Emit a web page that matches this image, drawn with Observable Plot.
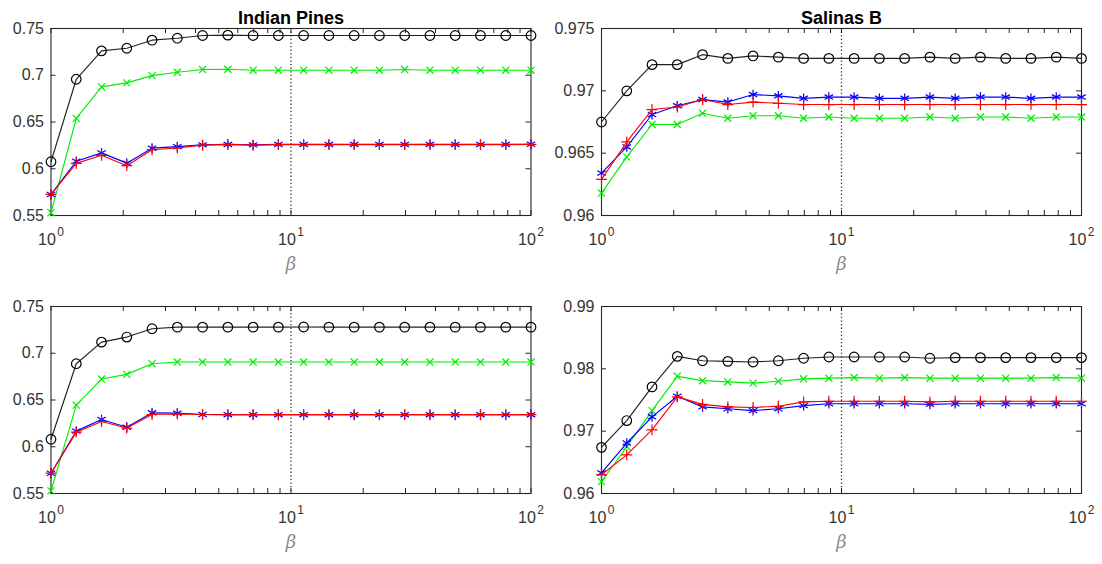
<!DOCTYPE html>
<html>
<head>
<meta charset="utf-8">
<script src="https://cdn.jsdelivr.net/npm/d3@7"></script>
<script src="https://cdn.jsdelivr.net/npm/@observablehq/plot@0.6"></script>
<style>
html, body { margin: 0; padding: 0; background: #fff; }
#root { position: relative; width: 1102px; height: 564px; overflow: hidden; background: #fff; }
#root svg { position: absolute; }
</style>
</head>
<body>
<div id="root"></div>
<script>
// ---- data ----
const betaValues = [1, 1.2743, 1.6238, 2.0691, 2.6367, 3.3598, 4.2813, 5.4556, 6.9519, 8.8587,
  11.2884, 14.3845, 18.3298, 23.3572, 29.7635, 37.9269, 48.3293, 61.5848, 78.476, 100];

const xMajorTicks = [1, 10, 100];
const xMinorTicks = [1, 2, 3, 4, 5, 6, 7, 8, 9, 10, 20, 30, 40, 50, 60, 70, 80, 90, 100];

const titles = ["Indian Pines", "Salinas B"];
const xLabel = "β";

const indianYTicks = [0.55, 0.6, 0.65, 0.7, 0.75];
const salinasTopYTicks = [0.96, 0.965, 0.97, 0.975];
const salinasBottomYTicks = [0.96, 0.97, 0.98, 0.99];

// Indian Pines, top row
const ipTopBlack = [0.6075, 0.6957, 0.7261, 0.7289, 0.7375, 0.7396, 0.7425, 0.7429, 0.7425, 0.7425,
  0.7425, 0.7425, 0.7425, 0.7425, 0.7425, 0.7425, 0.7425, 0.7425, 0.7425, 0.7425];
const ipTopGreen = [0.5530, 0.6539, 0.6875, 0.6918, 0.6996, 0.7032, 0.7061, 0.7064, 0.7054, 0.7054,
  0.7054, 0.7054, 0.7054, 0.7054, 0.7061, 0.7054, 0.7054, 0.7054, 0.7054, 0.7054];
const ipTopBlue = [0.5725, 0.6080, 0.6170, 0.6060, 0.6220, 0.6237, 0.6255, 0.6260, 0.6255, 0.6260,
  0.6260, 0.6260, 0.6260, 0.6260, 0.6260, 0.6260, 0.6260, 0.6260, 0.6260, 0.6262];
const ipTopRed = [0.5725, 0.6057, 0.6144, 0.6033, 0.6203, 0.6222, 0.6252, 0.6260, 0.6252, 0.6258,
  0.6258, 0.6258, 0.6258, 0.6258, 0.6258, 0.6258, 0.6258, 0.6258, 0.6258, 0.6260];

// Indian Pines, bottom row
const ipBotBlack = [0.6080, 0.6888, 0.7119, 0.7173, 0.7262, 0.7279, 0.7279, 0.7279, 0.7279, 0.7279,
  0.7281, 0.7279, 0.7279, 0.7279, 0.7279, 0.7279, 0.7279, 0.7279, 0.7279, 0.7279];
const ipBotGreen = [0.5528, 0.6445, 0.6724, 0.6774, 0.6888, 0.6906, 0.6906, 0.6906, 0.6906, 0.6906,
  0.6906, 0.6906, 0.6906, 0.6906, 0.6906, 0.6906, 0.6906, 0.6906, 0.6906, 0.6906];
const ipBotBlue = [0.5717, 0.6167, 0.6291, 0.6209, 0.6363, 0.6359, 0.6345, 0.6343, 0.6343, 0.6343,
  0.6343, 0.6343, 0.6343, 0.6343, 0.6343, 0.6343, 0.6343, 0.6343, 0.6343, 0.6343];
const ipBotRed = [0.5717, 0.6156, 0.6270, 0.6200, 0.6345, 0.6350, 0.6345, 0.6342, 0.6343, 0.6343,
  0.6343, 0.6343, 0.6343, 0.6343, 0.6343, 0.6343, 0.6343, 0.6343, 0.6343, 0.6343];

// Salinas B, top row
const sbTopBlack = [0.9675, 0.9700, 0.9721, 0.9721, 0.9729, 0.9726, 0.9728, 0.9727, 0.9726, 0.9726,
  0.9726, 0.9726, 0.9726, 0.9727, 0.9726, 0.9727, 0.9726, 0.9726, 0.9727, 0.9726];
const sbTopGreen = [0.9618, 0.9647, 0.9673, 0.9673, 0.9682, 0.9678, 0.9680, 0.9680, 0.9678, 0.9679,
  0.9678, 0.9678, 0.9678, 0.9679, 0.9678, 0.9679, 0.9679, 0.9678, 0.9679, 0.9679];
const sbTopBlue = [0.9634, 0.9655, 0.9681, 0.9688, 0.9693, 0.9691, 0.9697, 0.9696, 0.9694, 0.9695,
  0.9695, 0.9694, 0.9694, 0.9695, 0.9694, 0.9695, 0.9695, 0.9694, 0.9695, 0.9695];
const sbTopRed = [0.9629, 0.9659, 0.9685, 0.9687, 0.9693, 0.9689, 0.9691, 0.9690, 0.9689, 0.9689,
  0.9689, 0.9689, 0.9689, 0.9689, 0.9689, 0.9689, 0.9689, 0.9689, 0.9689, 0.9689];

// Salinas B, bottom row
const sbBotBlack = [0.9674, 0.9717, 0.9771, 0.9820, 0.9813, 0.9812, 0.9811, 0.9813, 0.9817, 0.9819,
  0.9819, 0.9819, 0.9819, 0.9817, 0.9818, 0.9818, 0.9818, 0.9818, 0.9818, 0.9818];
const sbBotGreen = [0.9619, 0.9675, 0.9733, 0.9788, 0.9781, 0.9779, 0.9777, 0.9780, 0.9784, 0.9785,
  0.9786, 0.9785, 0.9786, 0.9785, 0.9785, 0.9785, 0.9785, 0.9785, 0.9786, 0.9785];
const sbBotBlue = [0.9633, 0.9681, 0.9723, 0.9756, 0.9739, 0.9736, 0.9733, 0.9736, 0.9741, 0.9744,
  0.9744, 0.9744, 0.9744, 0.9743, 0.9744, 0.9744, 0.9744, 0.9744, 0.9744, 0.9744];
const sbBotRed = [0.9630, 0.9662, 0.9702, 0.9755, 0.9743, 0.9739, 0.9738, 0.9740, 0.9747, 0.9748,
  0.9748, 0.9748, 0.9748, 0.9747, 0.9748, 0.9748, 0.9748, 0.9748, 0.9748, 0.9748];

// ---- drawing ----
const FONT = "Arimo, 'Liberation Sans', Arial, Helvetica, sans-serif";
const seriesStyles = [
  {color: "#000000", symbol: "circle", r: 4.8, line: "#222222"},
  {color: "#00ee00", symbol: "times", r: 3.3, line: "#00ee00"},
  {color: "#0000ff", symbol: "asterisk", r: 4.6, line: "#0000ff"},
  {color: "#ff0000", symbol: "plus", r: 3.6, line: "#ff0000"}
];

function toRows(values) {
  return betaValues.map((b, i) => ({beta: b, value: values[i]}));
}

function fmtY(d) { return String(+d.toFixed(4)); }

function panel({series, yDomain, yTicks, title, left, top, width, height, ml, mr, mt, mb}) {
  const fw = width - ml - mr;
  const fh = height - mt - mb;
  const tick = 5;
  const marks = [
    Plot.ruleX([10], {stroke: "#333", strokeWidth: 1.3, strokeDasharray: "1.3,2.3"}),
    // inward ticks, bottom & top
    Plot.tickX(xMinorTicks, {x: d => d, insetTop: fh - tick, stroke: "#262626", strokeWidth: 1}),
    Plot.tickX(xMinorTicks, {x: d => d, insetBottom: fh - tick, stroke: "#262626", strokeWidth: 1}),
    // inward ticks, left & right
    Plot.tickY(yTicks, {y: d => d, insetRight: fw - tick, stroke: "#262626", strokeWidth: 1}),
    Plot.tickY(yTicks, {y: d => d, insetLeft: fw - tick, stroke: "#262626", strokeWidth: 1}),
    Plot.frame({stroke: "#262626", strokeWidth: 1.1}),
    Plot.axisX(xMajorTicks, {
      tickSize: 0, tickPadding: 18, label: null,
      tickFormat: d => "10^" + Math.round(Math.log10(d)),
      fontSize: 16, fill: "#333"
    }),
    Plot.axisY(yTicks, {
      tickSize: 0, tickPadding: 7, label: null,
      tickFormat: fmtY, fontSize: 16, fill: "#333"
    })
  ];
  series.forEach((vals, i) => {
    const s = seriesStyles[i];
    const rows = toRows(vals);
    marks.push(Plot.line(rows, {x: "beta", y: "value", stroke: s.line, strokeWidth: 1.15}));
    marks.push(Plot.dot(rows, {x: "beta", y: "value", symbol: s.symbol, r: s.r,
      stroke: s.color, fill: "none", strokeWidth: 1.2}));
  });
  if (title) {
    marks.push(Plot.text([title], {text: d => d, frameAnchor: "top", dy: -17,
      fontWeight: "bold", fontSize: 18, fill: "#000", fontFamily: FONT}));
  }
  marks.push(Plot.text([xLabel], {text: d => d, frameAnchor: "bottom", dy: 54,
    fontSize: 18, fontStyle: "italic", fill: "#8c8c8c", fontFamily: "'DejaVu Serif', serif"}));

  const svg = Plot.plot({
    width, height,
    marginLeft: ml, marginRight: mr, marginTop: mt, marginBottom: mb,
    x: {type: "log", domain: [1, 100]},
    y: {domain: yDomain},
    style: {background: "transparent", fontFamily: FONT, fontSize: "16px", color: "#333", overflow: "visible"},
    marks
  });
  svg.style.left = left + "px";
  svg.style.top = top + "px";

  // render "10^n" tick labels as 10 with a raised exponent
  svg.querySelectorAll('g[aria-label="x-axis tick label"] text').forEach(t => {
    const m = /^10\^(\d+)$/.exec(t.textContent);
    if (!m) return;
    t.textContent = "";
    const ns = "http://www.w3.org/2000/svg";
    const base = document.createElementNS(ns, "tspan");
    base.textContent = "10";
    const sup = document.createElementNS(ns, "tspan");
    sup.textContent = m[1];
    sup.setAttribute("font-size", "12px");
    sup.setAttribute("dy", "-0.75em");
    sup.setAttribute("dx", "1.5");
    t.appendChild(base);
    t.appendChild(sup);
  });
  return svg;
}

const root = document.getElementById("root");
const W = 551, H = 282;
root.appendChild(panel({
  series: [ipTopBlack, ipTopGreen, ipTopBlue, ipTopRed],
  yDomain: [0.55, 0.75], yTicks: indianYTicks, title: titles[0],
  left: 0, top: 0, width: W, height: H, ml: 50.5, mr: 20.5, mt: 28, mb: 67
}));
root.appendChild(panel({
  series: [sbTopBlack, sbTopGreen, sbTopBlue, sbTopRed],
  yDomain: [0.96, 0.975], yTicks: salinasTopYTicks, title: titles[1],
  left: 551, top: 0, width: W, height: H, ml: 50, mr: 21, mt: 28, mb: 67
}));
root.appendChild(panel({
  series: [ipBotBlack, ipBotGreen, ipBotBlue, ipBotRed],
  yDomain: [0.55, 0.75], yTicks: indianYTicks, title: null,
  left: 0, top: 282, width: W, height: H, ml: 50.5, mr: 20.5, mt: 24, mb: 71
}));
root.appendChild(panel({
  series: [sbBotBlack, sbBotGreen, sbBotBlue, sbBotRed],
  yDomain: [0.96, 0.99], yTicks: salinasBottomYTicks, title: null,
  left: 551, top: 282, width: W, height: H, ml: 50, mr: 21, mt: 24, mb: 71
}));
</script>
</body>
</html>
